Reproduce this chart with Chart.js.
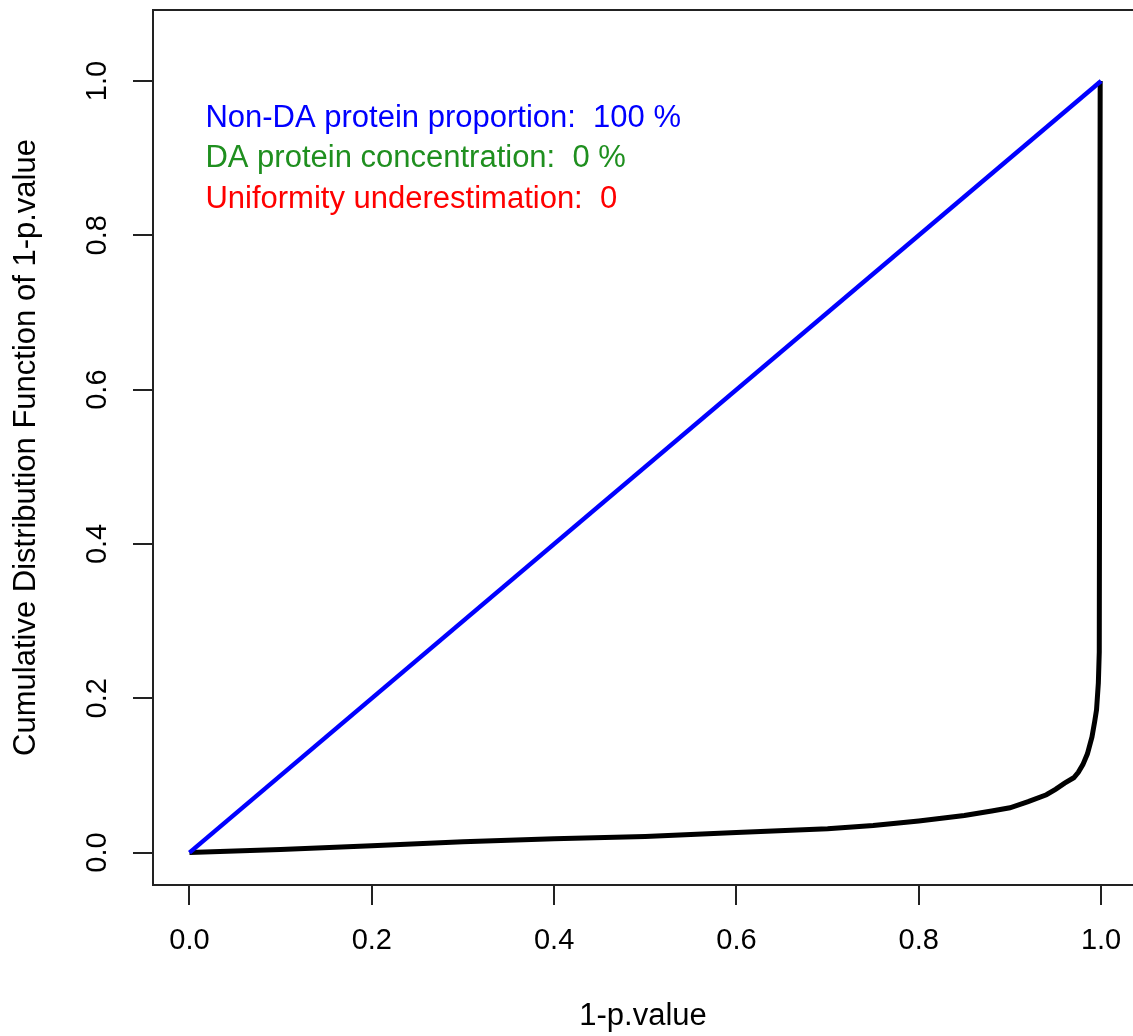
<!DOCTYPE html>
<html>
<head>
<meta charset="utf-8">
<script src="https://cdn.jsdelivr.net/npm/chart.js@4"></script>
<style>
  html, body { margin: 0; padding: 0; background: #fff; }
  #wrap { width: 1133px; height: 1036px; position: relative; }
</style>
</head>
<body>
<div id="wrap"><canvas id="cdf"></canvas></div>
<script>
// uniform reference line
const uniformX = [0, 1];
const uniformY = [0, 1];

const cdfX = [0, 0.05, 0.1, 0.2, 0.3, 0.4, 0.5, 0.6, 0.7, 0.75, 0.8, 0.85, 0.88, 0.9, 0.92, 0.94,
              0.95, 0.96, 0.97, 0.975, 0.98, 0.985, 0.99, 0.993, 0.995, 0.997, 0.998, 0.999];
const cdfY = [0, 0.002, 0.004, 0.009, 0.014, 0.018, 0.021, 0.026, 0.031, 0.035, 0.041, 0.048, 0.054, 0.058, 0.066, 0.075,
              0.082, 0.09, 0.097, 0.104, 0.114, 0.128, 0.15, 0.17, 0.185, 0.22, 0.26, 1.0];

const tickValues = [0, 0.2, 0.4, 0.6, 0.8, 1.0];

const notes = [
  { text: 'Non-DA protein proportion:  100 %', color: '#0000ff', y: 0.951 },
  { text: 'DA protein concentration:  0 %', color: '#1f8f1f', y: 0.899 },
  { text: 'Uniformity underestimation:  0', color: '#ff0000', y: 0.847 }
];

const FONT = 'Liberation Sans, Arial, sans-serif';

function pairs(xs, ys) {
  return xs.map((x, i) => ({ x: x, y: ys[i] }));
}

function noPad(s) {
  s.paddingTop = 0; s.paddingBottom = 0; s.paddingLeft = 0; s.paddingRight = 0;
}

const rBox = {
  id: 'rBox',
  afterDraw(chart) {
    const a = chart.chartArea;
    const c = chart.ctx;
    c.save();
    c.strokeStyle = '#222';
    c.lineWidth = 2;
    c.strokeRect(a.left, a.top, a.right - a.left + 10, a.bottom - a.top);
    // text notes
    const xs = chart.scales.x, ys = chart.scales.y;
    c.font = '31px ' + FONT;
    c.textAlign = 'left';
    c.textBaseline = 'middle';
    notes.forEach(n => {
      c.fillStyle = n.color;
      c.fillText(n.text, xs.getPixelForValue(0.0175), ys.getPixelForValue(n.y));
    });
    c.restore();
  }
};

new Chart(document.getElementById('cdf'), {
  type: 'scatter',
  data: {
    datasets: [
      {
        label: 'uniform',
        data: pairs(uniformX, uniformY),
        showLine: true,
        borderColor: '#0000ff',
        borderWidth: 4.5,
        pointRadius: 0
      },
      {
        label: 'ecdf',
        data: pairs(cdfX, cdfY),
        showLine: true,
        borderColor: '#000',
        borderWidth: 5,
        pointRadius: 0
      }
    ]
  },
  options: {
    responsive: true,
    maintainAspectRatio: false,
    animation: false,
    layout: { padding: { top: 10, right: 0, left: 0, bottom: 0 } },
    plugins: { legend: { display: false }, tooltip: { enabled: false } },
    scales: {
      x: {
        type: 'linear',
        min: -0.04,
        max: 1.035,
        afterBuildTicks: s => { s.ticks = tickValues.map(v => ({ value: v })); },
        afterFit: s => { s.height = 151; noPad(s); },
        grid: { display: true, drawOnChartArea: false, drawTicks: true, tickLength: 20, color: '#222', lineWidth: 2 },
        border: { display: false },
        ticks: {
          padding: 19,
          color: '#000',
          font: { family: FONT, size: 29 },
          maxRotation: 0,
          callback: v => v.toFixed(1)
        },
        title: {
          display: true,
          text: '1-p.value',
          color: '#000',
          font: { family: FONT, size: 31 },
          padding: { top: 0, bottom: 1 }
        }
      },
      y: {
        type: 'linear',
        min: -0.042,
        max: 1.092,
        afterBuildTicks: s => { s.ticks = tickValues.map(v => ({ value: v })); },
        afterFit: s => { s.width = 153; noPad(s); },
        grid: { display: true, drawOnChartArea: false, drawTicks: true, tickLength: 20, color: '#222', lineWidth: 2 },
        border: { display: false },
        ticks: {
          padding: 15,
          crossAlign: 'center',
          minRotation: 90,
          maxRotation: 90,
          color: '#000',
          font: { family: FONT, size: 29 },
          callback: v => v.toFixed(1)
        },
        title: {
          display: true,
          text: 'Cumulative Distribution Function of 1-p.value',
          color: '#000',
          font: { family: FONT, size: 31 },
          padding: { top: 8, bottom: 0 }
        }
      }
    }
  },
  plugins: [rBox]
});
</script>
</body>
</html>
